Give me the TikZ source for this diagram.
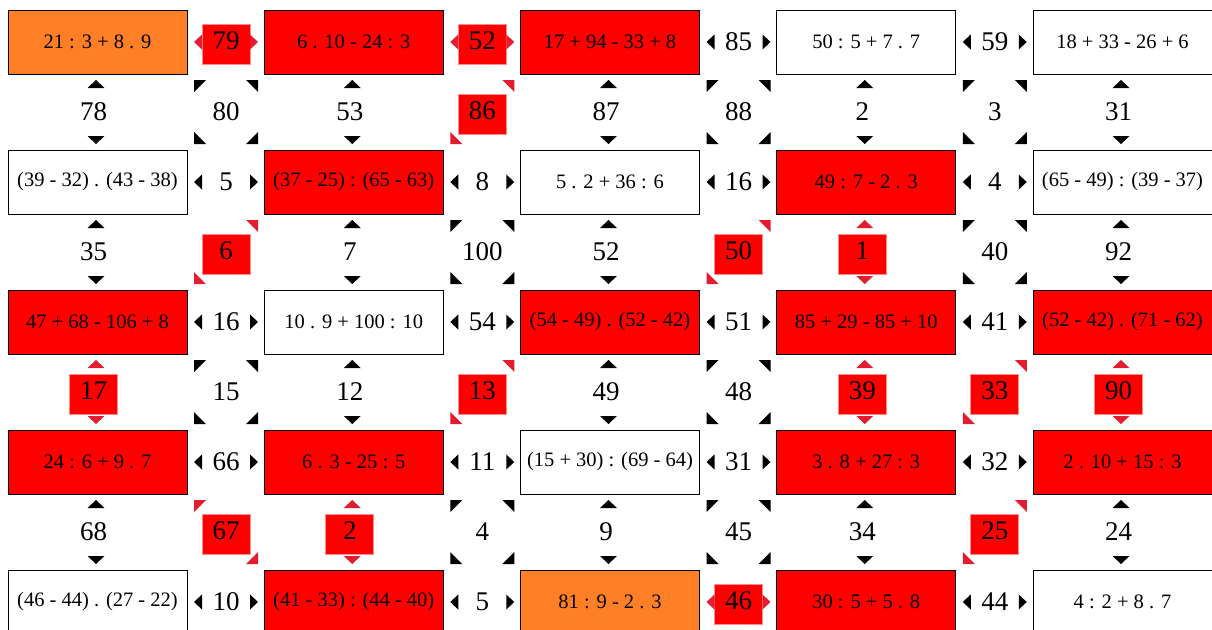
\documentclass[tikz,border=0pt]{standalone}
\usepackage{fontspec}
\setmainfont{Liberation Serif}
\definecolor{hotred}{RGB}{255,0,0}
\definecolor{tipred}{RGB}{228,28,48}
\definecolor{hotedge}{RGB}{255,140,140}
\definecolor{endorange}{RGB}{255,127,39}
\newcommand{\exprfont}{\fontsize{20.5}{23}\selectfont}
\newcommand{\numfont}{\fontsize{27}{30}\selectfont}

\begin{document}
\begin{tikzpicture}[x=1pt, y=-1pt,
    exprbox/.style={draw=black, line width=0.9pt, minimum width=179pt,
      minimum height=64pt, inner sep=0pt, font=\exprfont},
    plainbox/.style={exprbox, fill=white},
    hotbox/.style={exprbox, fill=hotred},
    endbox/.style={exprbox, fill=endorange},
    plainnum/.style={font=\numfont, inner sep=0pt},
    hotnum/.style={plainnum, fill=hotred, draw=hotedge, line width=0.6pt,
      minimum width=48pt, minimum height=40pt, text depth=6pt, yshift=-2pt},
    plaintip/.style={fill=black},
    hottip/.style={fill=tipred},
  ]
    \useasboundingbox (0,0) rectangle (1212,629);

    % expression boxes
    \foreach \r/\c/\k/\txt in {
        0/0/end/{21 : 3 + 8 . 9}, 0/1/hot/{6 . 10 - 24 : 3},
        0/2/hot/{17 + 94 - 33 + 8}, 0/3/plain/{50 : 5 + 7 . 7},
        0/4/plain/{18 + 33 - 26 + 6},
        1/0/plain/{(39 - 32) . (43 - 38)}, 1/1/hot/{(37 - 25) : (65 - 63)},
        1/2/plain/{5 . 2 + 36 : 6}, 1/3/hot/{49 : 7 - 2 . 3},
        1/4/plain/{(65 - 49) : (39 - 37)},
        2/0/hot/{47 + 68 - 106 + 8}, 2/1/plain/{10 . 9 + 100 : 10},
        2/2/hot/{(54 - 49) . (52 - 42)}, 2/3/hot/{85 + 29 - 85 + 10},
        2/4/hot/{(52 - 42) . (71 - 62)},
        3/0/hot/{24 : 6 + 9 . 7}, 3/1/hot/{6 . 3 - 25 : 5},
        3/2/plain/{(15 + 30) : (69 - 64)}, 3/3/hot/{3 . 8 + 27 : 3},
        3/4/hot/{2 . 10 + 15 : 3},
        4/0/plain/{(46 - 44) . (27 - 22)}, 4/1/hot/{(41 - 33) : (44 - 40)},
        4/2/end/{81 : 9 - 2 . 3}, 4/3/hot/{30 : 5 + 5 . 8},
        4/4/plain/{4 : 2 + 8 . 7}}
      \node[\k box] (b-\r-\c) at (97.5+256.25*\c, 42+140*\r) {\txt};

    % horizontal links
    \foreach \r/\c/\n/\k in {0/0/79/hot, 0/1/52/hot, 0/2/85/plain, 0/3/59/plain,
        1/0/5/plain, 1/1/8/plain, 1/2/16/plain, 1/3/4/plain,
        2/0/16/plain, 2/1/54/plain, 2/2/51/plain, 2/3/41/plain,
        3/0/66/plain, 3/1/11/plain, 3/2/31/plain, 3/3/32/plain,
        4/0/10/plain, 4/1/5/plain, 4/2/46/hot, 4/3/44/plain} {
      \coordinate (hc-\r-\c) at (226+256.25*\c, 42+140*\r);
      \node[\k num] (h-\r-\c) at (hc-\r-\c) {\n};
      \fill[\k tip, shift={(hc-\r-\c)}]
        (-32,0) -- (-24,-7.5) -- (-24,7.5) -- cycle
        (32,0) -- (24,-7.5) -- (24,7.5) -- cycle;
    }

    % vertical links
    \foreach \r/\c/\n/\k in {0/0/78/plain, 0/1/53/plain, 0/2/87/plain, 0/3/2/plain, 0/4/31/plain,
        1/0/35/plain, 1/1/7/plain, 1/2/52/plain, 1/3/1/hot, 1/4/92/plain,
        2/0/17/hot, 2/1/12/plain, 2/2/49/plain, 2/3/39/hot, 2/4/90/hot,
        3/0/68/plain, 3/1/2/hot, 3/2/9/plain, 3/3/34/plain, 3/4/24/plain} {
      \coordinate (vc-\r-\c) at (96+256.25*\c, 112+140*\r);
      \node[\k num] (v-\r-\c) at ([xshift=-2.5pt]vc-\r-\c) {\n};
      \fill[\k tip, shift={(vc-\r-\c)}]
        (0,-32) -- (-8.5,-24) -- (8.5,-24) -- cycle
        (0,32) -- (-8.5,24) -- (8.5,24) -- cycle;
    }

    % diagonal links
    \foreach \r/\c/\n in {0/0/80, 0/2/88, 0/3/3, 1/1/100, 1/3/40,
        2/0/15, 2/2/48, 3/1/4, 3/2/45} {
      \coordinate (dc-\r-\c) at (226+256.25*\c, 112+140*\r);
      \node[plainnum] (d-\r-\c) at (dc-\r-\c) {\n};
      \fill[plaintip, shift={(dc-\r-\c)}]
        (-32,-32) -- (-20,-32) -- (-32,-20) -- cycle
        (32,-32) -- (20,-32) -- (32,-20) -- cycle
        (-32,32) -- (-20,32) -- (-32,20) -- cycle
        (32,32) -- (20,32) -- (32,20) -- cycle;
    }
    \foreach \r/\c/\n in {0/1/86, 1/0/6, 1/2/50, 2/1/13, 2/3/33, 3/3/25} {
      \coordinate (dc-\r-\c) at (226+256.25*\c, 112+140*\r);
      \node[hotnum] (d-\r-\c) at (dc-\r-\c) {\n};
      \fill[hottip, shift={(dc-\r-\c)}]
        (32,-32) -- (20,-32) -- (32,-20) -- cycle
        (-32,32) -- (-20,32) -- (-32,20) -- cycle;
    }
    \foreach \r/\c/\n in {3/0/67} {
      \coordinate (dc-\r-\c) at (226+256.25*\c, 112+140*\r);
      \node[hotnum] (d-\r-\c) at (dc-\r-\c) {\n};
      \fill[hottip, shift={(dc-\r-\c)}]
        (-32,-32) -- (-20,-32) -- (-32,-20) -- cycle
        (32,32) -- (20,32) -- (32,20) -- cycle;
    }
  \end{tikzpicture}
\end{document}
